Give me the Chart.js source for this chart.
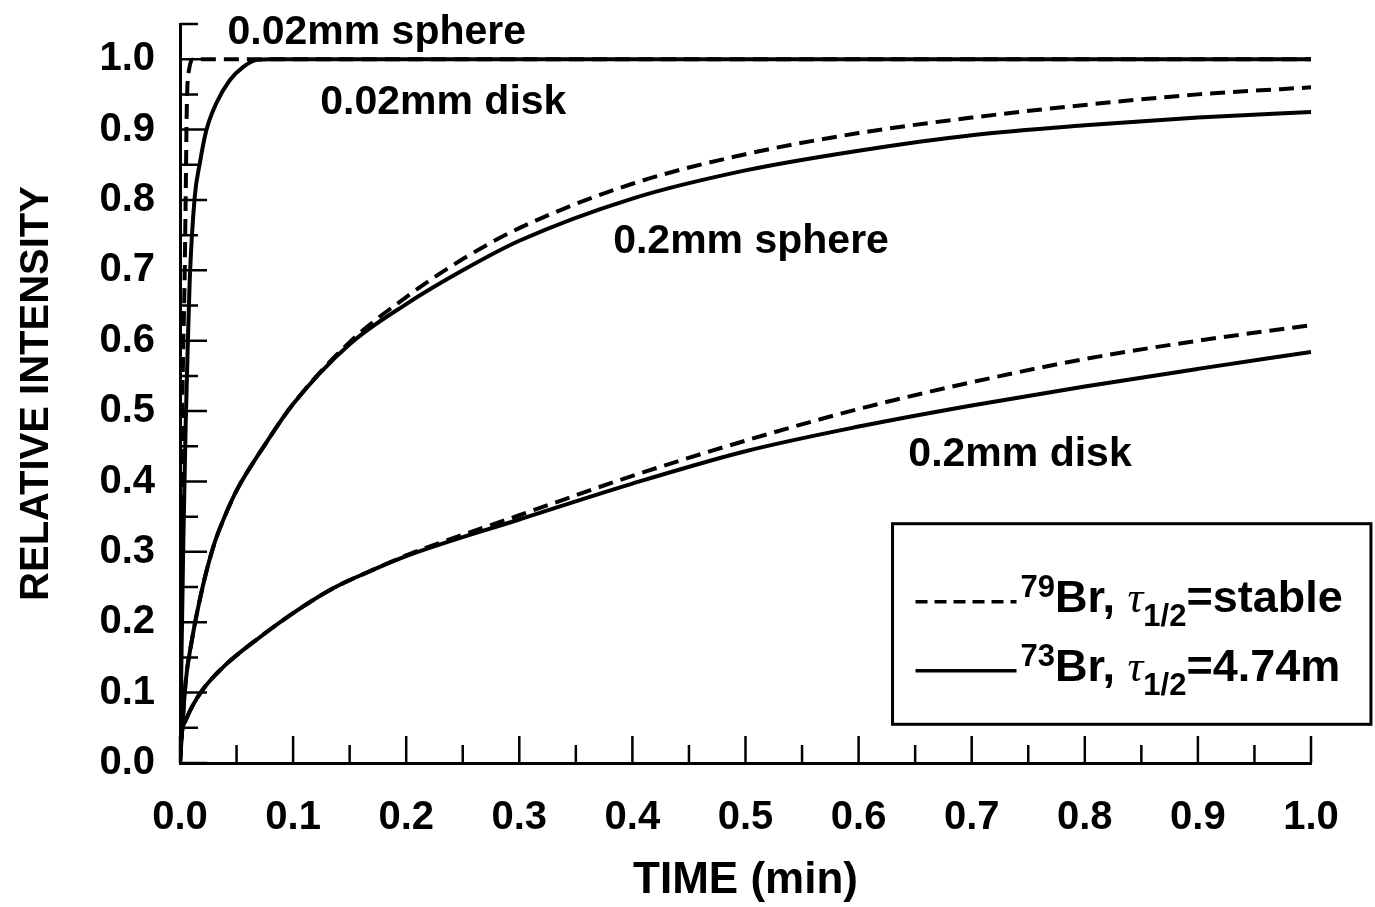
<!DOCTYPE html>
<html>
<head>
<meta charset="utf-8">
<script src="https://cdn.jsdelivr.net/npm/chart.js@4.4.0/dist/chart.umd.min.js"></script>
<style>
  html, body { margin: 0; padding: 0; background: #fff; }
  #wrap { width: 1375px; height: 907px; }
</style>
</head>
<body>
<div id="wrap"><canvas id="chart" width="1375" height="907"></canvas></div>
<script>
// values (time in min, relative intensity)
const sphere002X = [0, 0.001, 0.002, 0.003, 0.004, 0.005, 0.006, 0.008, 0.012, 1.0];
const sphere002Stable = [0, 0.30, 0.50, 0.60, 0.68, 0.80, 0.93, 0.985, 1.0, 1.0];

const disk002X = [0, 0.001, 0.003, 0.005, 0.007, 0.0086, 0.013, 0.0175, 0.0233, 0.032, 0.044, 0.056, 0.068, 0.08, 1.0];
const disk002Short = [0, 0.12, 0.32, 0.48, 0.60, 0.686, 0.804, 0.852, 0.899, 0.937, 0.970, 0.989, 0.999, 1.0, 1.0];

const sphere02X = [0, 0.005, 0.01, 0.02, 0.03, 0.04, 0.05, 0.075, 0.1, 0.15, 0.2, 0.25, 0.3, 0.4, 0.5, 0.6, 0.7, 0.8, 0.9, 1.0];
const sphere02Stable = [0, 0.115, 0.17, 0.25, 0.31, 0.352, 0.387, 0.452, 0.51, 0.598, 0.662, 0.716, 0.760, 0.823, 0.865, 0.895, 0.917, 0.935, 0.950, 0.960];
const sphere02Short = [0, 0.115, 0.17, 0.25, 0.31, 0.352, 0.387, 0.452, 0.51, 0.595, 0.652, 0.700, 0.742, 0.802, 0.842, 0.870, 0.892, 0.906, 0.917, 0.925];

const disk02X = [0, 0.001, 0.005, 0.01, 0.02, 0.04, 0.07, 0.1, 0.135, 0.17, 0.2, 0.3, 0.4, 0.5, 0.6, 0.7, 0.8, 0.9, 1.0];
const disk02Stable = [0, 0.035, 0.06, 0.078, 0.104, 0.139, 0.178, 0.213, 0.248, 0.274, 0.295, 0.352, 0.408, 0.458, 0.503, 0.541, 0.574, 0.600, 0.622];
const disk02Short = [0, 0.035, 0.06, 0.078, 0.104, 0.139, 0.178, 0.213, 0.248, 0.274, 0.294, 0.346, 0.397, 0.443, 0.478, 0.508, 0.535, 0.560, 0.584];

const curveNames = ['0.02mm sphere', '0.02mm disk', '0.2mm sphere', '0.2mm disk'];
const keyNames = [
    { mass: '79', life: 'stable' },
    { mass: '73', life: '4.74m' }
];

const FONT = '"Liberation Sans", Arial, Helvetica, sans-serif';
const DASH = [15, 8];

const pts = (xs, ys) => xs.map((x, i) => ({ x, y: ys[i] }));

function curve(label, xs, ys, dashed) {
    return {
        label,
        data: pts(xs, ys),
        borderColor: '#000',
        borderWidth: 4,
        borderDash: dashed ? DASH : [],
        pointRadius: 0,
        fill: false,
        cubicInterpolationMode: 'monotone'
    };
}

const isMajor = v => Math.abs(v * 10 - Math.round(v * 10)) < 1e-6;

// tick marks point into the plot
const insideTicks = {
    id: 'insideTicks',
    afterDraw(chart) {
        const { ctx, scales: { x, y } } = chart;
        ctx.save();
        ctx.strokeStyle = '#000';
        ctx.lineWidth = 2.5;
        ctx.beginPath();
        x.ticks.forEach(t => {
            const px = x.getPixelForValue(t.value);
            const len = isMajor(t.value) ? 27 : 18;
            ctx.moveTo(px, y.bottom);
            ctx.lineTo(px, y.bottom - len);
        });
        y.ticks.forEach(t => {
            const py = y.getPixelForValue(t.value);
            const len = isMajor(t.value) ? 27 : 18;
            ctx.moveTo(x.left, py);
            ctx.lineTo(x.left + len, py);
        });
        ctx.stroke();
        ctx.restore();
    }
};

// names written next to each pair of curves
const curveLabels = {
    id: 'curveLabels',
    afterDraw(chart, args, opts) {
        const { ctx, scales: { x, y } } = chart;
        ctx.save();
        ctx.fillStyle = '#000';
        ctx.font = 'bold 41px ' + FONT;
        ctx.textBaseline = 'middle';
        ctx.textAlign = 'left';
        opts.items.forEach(it => {
            ctx.fillText(it.text, x.getPixelForValue(it.x), y.getPixelForValue(it.y));
        });
        ctx.restore();
    }
};

function drawRich(ctx, parts, x, base) {
    parts.forEach(p => {
        ctx.font = p.font;
        ctx.fillText(p.t, x, base + (p.dy || 0));
        x += ctx.measureText(p.t).width;
    });
}

// boxed key with super/subscripts
const keyBox = {
    id: 'keyBox',
    afterDraw(chart, args, opts) {
        const { ctx, scales: { x, y } } = chart;
        const l = x.getPixelForValue(opts.left), r = x.getPixelForValue(opts.right);
        const t = y.getPixelForValue(opts.top), b = y.getPixelForValue(opts.bottom);
        ctx.save();
        ctx.strokeStyle = '#000';
        ctx.fillStyle = '#fff';
        ctx.lineWidth = 3;
        ctx.fillRect(l, t, r - l, b - t);
        ctx.strokeRect(l, t, r - l, b - t);
        ctx.fillStyle = '#000';
        ctx.textBaseline = 'alphabetic';
        keyNames.forEach((k, i) => {
            const base = t + 88 + i * 69;
            ctx.beginPath();
            ctx.setLineDash(i === 0 ? [12, 7] : []);
            ctx.lineWidth = 3.5;
            ctx.moveTo(l + 23, base - 10);
            ctx.lineTo(l + 124, base - 10);
            ctx.stroke();
            ctx.setLineDash([]);
            drawRich(ctx, [
                { t: k.mass, font: 'bold 31px ' + FONT, dy: -15 },
                { t: 'Br, ', font: 'bold 45px ' + FONT },
                { t: 'τ', font: 'italic 44px "Liberation Serif", serif' },
                { t: '1/2', font: 'bold 31px ' + FONT, dy: 14 },
                { t: '=' + k.life, font: 'bold 45px ' + FONT }
            ], l + 128, base);
        });
        ctx.restore();
    }
};

new Chart(document.getElementById('chart'), {
    type: 'line',
    data: {
        datasets: [
            curve(curveNames[0] + ' stable', sphere002X, sphere002Stable, true),
            curve(curveNames[1] + ' 4.74m', disk002X, disk002Short, false),
            curve(curveNames[2] + ' stable', sphere02X, sphere02Stable, true),
            curve(curveNames[2] + ' 4.74m', sphere02X, sphere02Short, false),
            curve(curveNames[3] + ' stable', disk02X, disk02Stable, true),
            curve(curveNames[3] + ' 4.74m', disk02X, disk02Short, false)
        ]
    },
    options: {
        responsive: false,
        animation: false,
        devicePixelRatio: 1,
        layout: { padding: { left: 0, right: 64, top: 24, bottom: 0 } },
        scales: {
            x: {
                type: 'linear',
                min: 0,
                max: 1.0,
                afterFit: s => { s.height = 144; },
                grid: { display: false },
                border: { display: true, color: '#000', width: 3 },
                ticks: {
                    stepSize: 0.05,
                    color: '#000',
                    padding: 23,
                    maxRotation: 0,
                    autoSkip: false,
                    font: { family: FONT, size: 40, weight: 'bold' },
                    callback: v => isMajor(v) ? v.toFixed(1) : ''
                },
                title: {
                    display: true,
                    text: 'TIME (min)',
                    color: '#000',
                    padding: { top: 0, bottom: 0 },
                    font: { family: FONT, size: 44, weight: 'bold' }
                }
            },
            y: {
                min: 0,
                max: 1.05,
                afterFit: s => { s.width = 180; s.paddingTop = 0; s.paddingBottom = 0; },
                grid: { display: false },
                border: { display: true, color: '#000', width: 3 },
                ticks: {
                    stepSize: 0.05,
                    color: '#000',
                    padding: 17,
                    autoSkip: false,
                    font: { family: FONT, size: 40, weight: 'bold' },
                    callback: v => (isMajor(v) && v <= 1.0001) ? v.toFixed(1) : ''
                },
                title: {
                    display: true,
                    text: 'RELATIVE INTENSITY',
                    color: '#000',
                    padding: { top: 13, bottom: 0 },
                    font: { family: FONT, size: 40, weight: 'bold' }
                }
            }
        },
        plugins: {
            legend: { display: false },
            tooltip: { enabled: false },
            curveLabels: {
                items: [
                    { text: curveNames[0], x: 0.042, y: 1.038 },
                    { text: curveNames[1], x: 0.124, y: 0.9375 },
                    { text: curveNames[2], x: 0.383, y: 0.740 },
                    { text: curveNames[3], x: 0.644, y: 0.4375 }
                ]
            },
            keyBox: { left: 0.63, right: 1.053, top: 0.34, bottom: 0.055 }
        }
    },
    plugins: [insideTicks, curveLabels, keyBox]
});
</script>
</body>
</html>
